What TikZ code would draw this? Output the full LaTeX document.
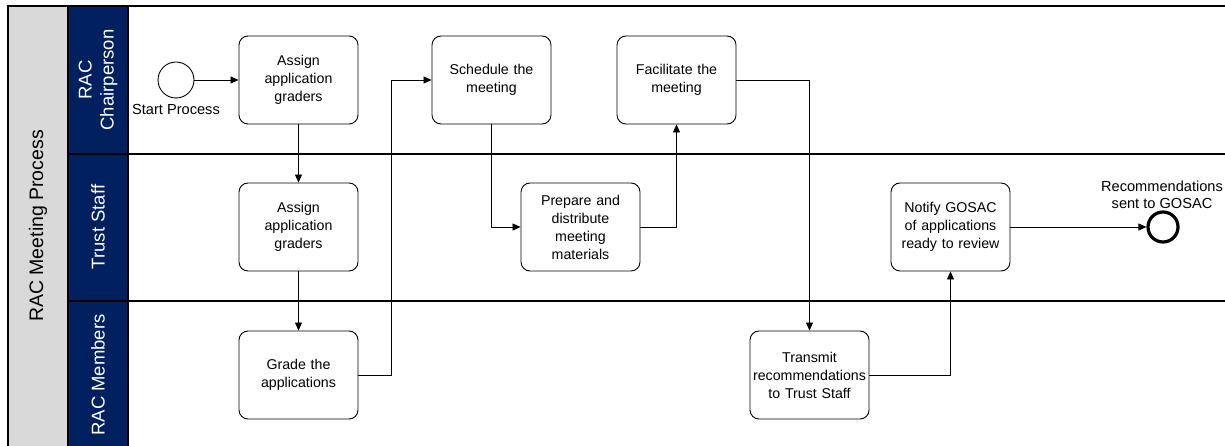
\documentclass[tikz,border=0pt]{standalone}
\usepackage{fontspec}
\setmainfont{Liberation Sans}
\usetikzlibrary{arrows.meta}
\definecolor{navy}{HTML}{002060}
\definecolor{poolgrey}{HTML}{D9D9D9}
\begin{document}
\begin{tikzpicture}[x=1pt,y=-1pt,
  task/.style={draw, rounded corners=9pt, line width=0.9pt, minimum width=119pt, minimum height=88pt, align=center, inner sep=2pt, font=\fontsize{14.2}{18}\selectfont, text width=114pt},
  flow/.style={draw, line width=0.8pt, -{Triangle[length=8pt,width=7pt]}},
  lanelbl/.style={rotate=90, text=white, align=center, font=\fontsize{18.5}{22}\selectfont},
  evlbl/.style={align=center, font=\fontsize{14.6}{17}\selectfont}]
\useasboundingbox (0,0) rectangle (1225,446);
% pool
\fill[poolgrey] (8,6) rectangle (68,450);
\fill[navy] (68,6) rectangle (128,450);
\draw[line width=1.3pt] (8,450) -- (8,6) -- (1230,6);
\draw[line width=1.3pt] (68,6) -- (68,450);
\draw[line width=1.3pt] (128,6) -- (128,450);
\draw[line width=1.3pt] (68,154) -- (1230,154);
\draw[line width=1.3pt] (68,301) -- (1230,301);
\node[rotate=90, font=\fontsize{19.5}{23}\selectfont] (pool) at (38,226) {RAC Meeting Process};
\node[lanelbl] (l1) at (98,80) {RAC\\Chairperson};
\node[lanelbl] (l2) at (98,227) {Trust Staff};
\node[lanelbl] (l3) at (98,375) {RAC Members};
% events
\node[draw, circle, line width=0.9pt, minimum size=36pt, inner sep=0pt] (start) at (176,80) {};
\node[evlbl] (startl) at (176,109) {Start Process};
\node[draw, circle, line width=3.2pt, minimum size=30pt, inner sep=0pt] (end) at (1163,227) {};
\node[evlbl] (endl) at (1162,195) {Recommendations\\sent to GOSAC};
% tasks
\node[task] (a1) at (298.5,80) {Assign\\application\\graders};
\node[task] (sch) at (491.5,80) {Schedule the\\meeting};
\node[task] (fac) at (676.5,80) {Facilitate the\\meeting};
\node[task] (a2) at (298.5,227) {Assign\\application\\graders};
\node[task] (prep) at (580.5,227) {Prepare and\\distribute\\meeting\\materials};
\node[task] (not) at (950.5,227) {Notify GOSAC\\of applications\\ready to review};
\node[task] (grade) at (298.5,375) {Grade the\\applications};
\node[task] (trans) at (809.5,375) {Transmit\\recommendations\\to Trust Staff};
% flows
\draw[flow] (start) -- (a1);
\draw[flow] (a1) -- (a2);
\draw[flow] (a2) -- (grade);
\draw[flow] (grade.east) -- (391,375) -- (391,80) -- (sch.west);
\draw[flow] (sch.south) -- (491.5,227) -- (prep.west);
\draw[flow] (prep.east) -- (676.5,227) -- (fac.south);
\draw[flow] (fac.east) -- (809.5,80) -- (trans.north);
\draw[flow] (trans.east) -- (950.5,375) -- (not.south);
\draw[flow] (not.east) -- (end.west);
\end{tikzpicture}
\end{document}
